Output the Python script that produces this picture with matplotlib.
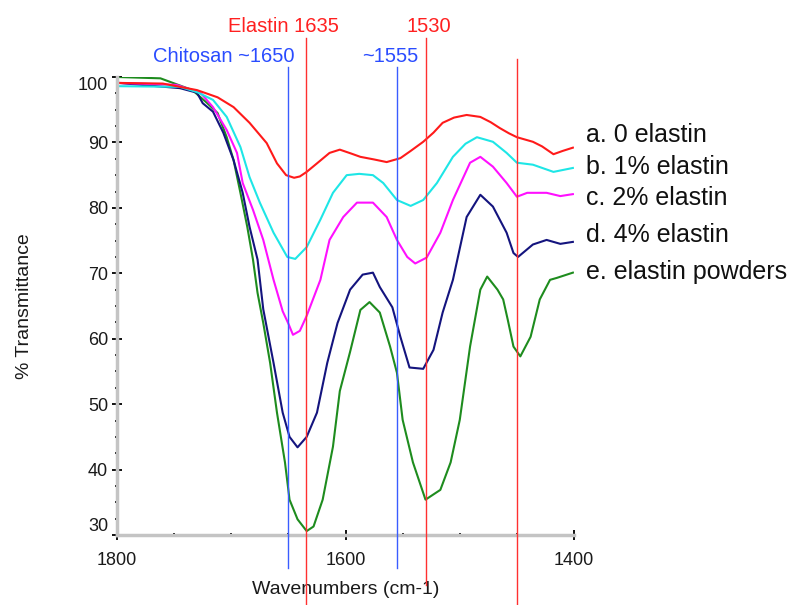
import matplotlib.pyplot as plt
from matplotlib.ticker import MultipleLocator

plt.rcParams['font.family'] = ['Liberation Sans', 'DejaVu Sans']

# a. 0 elastin
w_a = [1799, 1760, 1730, 1712, 1698, 1684, 1669, 1660, 1652, 1645, 1640, 1634, 1625,
       1614, 1605, 1595, 1587, 1575, 1564, 1552, 1543, 1532, 1523, 1515, 1505, 1494,
       1482, 1473, 1465, 1457, 1450, 1436, 1428, 1418, 1410, 1401]
t_a = [99.1, 99.0, 98.0, 96.9, 95.4, 93.0, 89.9, 86.8, 85.0, 84.6, 84.8, 85.5, 86.8,
       88.4, 88.9, 88.3, 87.8, 87.4, 87.0, 87.6, 88.7, 90.1, 91.5, 93.0, 93.8, 94.2,
       93.9, 93.1, 92.2, 91.4, 90.8, 90.1, 89.4, 88.2, 88.7, 89.2]

# b. 1% elastin
w_b = [1799, 1745, 1730, 1716, 1704, 1692, 1684, 1675, 1663, 1651, 1644, 1634, 1622,
       1611, 1599, 1588, 1576, 1567, 1555, 1543, 1532, 1520, 1506, 1495, 1485, 1471,
       1459, 1450, 1436, 1418, 1401]
t_b = [98.6, 98.5, 97.7, 96.5, 93.9, 89.3, 84.7, 80.8, 76.2, 72.5, 72.2, 74.0, 78.2,
       82.3, 85.0, 85.2, 85.0, 83.8, 81.2, 80.3, 81.2, 83.8, 87.8, 89.8, 90.8, 90.1,
       88.4, 86.9, 86.6, 85.5, 86.1]

# c. 2% elastin
w_c = [1799, 1748, 1727, 1716, 1704, 1695, 1690, 1681, 1672, 1663, 1655, 1650, 1646,
       1640, 1634, 1622, 1614, 1602, 1590, 1576, 1564, 1555, 1546, 1539, 1529, 1517,
       1506, 1491, 1482, 1471, 1459, 1450, 1441, 1424, 1412, 1401]
t_c = [99.1, 98.8, 97.6, 95.4, 91.9, 88.4, 83.8, 79.7, 75.1, 69.0, 64.2, 62.3, 60.6,
       61.2, 63.5, 69.0, 75.1, 78.6, 80.8, 80.8, 78.6, 75.1, 72.5, 71.5, 72.4, 76.2,
       81.2, 86.9, 87.8, 86.3, 83.8, 81.7, 82.3, 82.3, 81.8, 82.1]

# d. 4% elastin
w_d = [1799, 1745, 1730, 1725, 1716, 1707, 1698, 1690, 1684, 1677, 1672, 1663, 1655,
       1649, 1642, 1634, 1625, 1616, 1607, 1596, 1585, 1576, 1570, 1559, 1552, 1544,
       1532, 1523, 1515, 1506, 1494, 1482, 1471, 1459, 1453, 1449, 1436, 1424, 1412, 1401]
t_d = [99.1, 98.3, 97.6, 96.0, 94.7, 91.5, 87.3, 82.3, 77.1, 72.1, 64.5, 56.3, 48.7,
       45.0, 43.4, 45.0, 48.7, 56.3, 62.4, 67.5, 69.8, 70.1, 67.9, 64.8, 60.3, 55.6,
       55.4, 58.3, 64.0, 69.0, 78.6, 82.0, 80.2, 76.2, 73.1, 72.5, 74.4, 75.1, 74.5, 74.8]

# e. elastin powders
w_e = [1799, 1762, 1748, 1734, 1721, 1712, 1704, 1698, 1692, 1686, 1681, 1677, 1672,
       1666, 1660, 1653, 1649, 1642, 1634, 1628, 1620, 1611, 1605, 1596, 1587, 1579,
       1570, 1561, 1555, 1550, 1541, 1530, 1517, 1508, 1500, 1491, 1482, 1476, 1467,
       1462, 1458, 1453, 1447, 1438, 1430, 1421, 1415, 1401]
t_e = [100.0, 99.8, 98.9, 98.0, 96.0, 94.5, 90.8, 87.3, 82.3, 77.1, 72.1, 67.0, 62.4,
       56.3, 48.7, 41.1, 35.4, 32.4, 30.6, 31.3, 35.4, 43.5, 52.0, 58.0, 64.4, 65.6,
       64.0, 58.8, 54.8, 47.6, 41.1, 35.4, 36.9, 41.1, 47.6, 58.8, 67.5, 69.5, 67.5,
       66.0, 62.9, 58.8, 57.3, 60.3, 66.0, 69.0, 69.3, 70.1]

serie = [(w_a, t_a, '#ff1a1a'), (w_b, t_b, '#1ee6e6'), (w_c, t_c, '#ff10ff'),
         (w_d, t_d, '#14147e'), (w_e, t_e, '#1e8c1e')]
oznake = ['a. 0 elastin', 'b. 1% elastin', 'c. 2% elastin', 'd. 4% elastin',
          'e. elastin powders']

# navpicne crte: (valovno stevilo, barva, spodaj, zgoraj)
crte = [(1650, '#3a5cff', -0.072, 1.022), (1635, '#ff3030', -0.153, 1.085),
        (1555, '#3a5cff', -0.072, 1.022), (1530, '#ff3030', -0.109, 1.085),
        (1450, '#ff3030', -0.153, 1.039)]

fig = plt.figure(figsize=(8.11, 6.05), dpi=100)
ax = fig.add_axes([0.1443, 0.1157, 0.5635, 0.757])

for w, t, barva in serie[::-1]:
    ax.plot(w, t, color=barva, linewidth=1.5)

for x, barva, y0, y1 in crte:
    ax.axvline(x, y0, y1, color=barva, linewidth=1.0, clip_on=False, zorder=5)

ax.set_xlim(1800, 1400)
ax.set_ylim(30.3, 100)
ax.set_xticks([1800, 1600, 1400])
ax.xaxis.set_minor_locator(MultipleLocator(50))
ax.set_yticks([30, 40, 50, 60, 70, 80, 90, 100])
ax.yaxis.set_minor_locator(MultipleLocator(2.5))

for s in ['top', 'right']:
    ax.spines[s].set_visible(False)
for s in ['left', 'bottom']:
    ax.spines[s].set_color('#c4c4c4')
    ax.spines[s].set_linewidth(2.5)

ax.tick_params(which='major', direction='inout', length=7, width=1.4, color='#111111',
               labelsize=13, labelcolor='#1a1a1a')
ax.tick_params(which='minor', direction='inout', length=2.5, width=1.4, color='#111111')
ax.tick_params(axis='x', which='major', pad=9)
ax.tick_params(axis='y', which='major', pad=3)

yt = ax.yaxis.get_major_ticks()
yt[0].label1.set_verticalalignment('bottom')
yt[-1].label1.set_verticalalignment('top')

ax.set_xlabel('Wavenumbers (cm-1)', fontsize=14, color='#1a1a1a')
ax.set_ylabel('% Transmittance', fontsize=14, color='#1a1a1a')
ax.xaxis.set_label_coords(0.5, -0.10)
ax.yaxis.set_label_coords(-0.184, 0.5)

fig.text(0.350, 0.957, 'Elastin 1635', color='#ff2020', fontsize=14.5, ha='center', va='center')
fig.text(0.529, 0.957, '1530', color='#ff2020', fontsize=14.5, ha='center', va='center')
fig.text(0.276, 0.906, 'Chitosan ~1650', color='#2a4cff', fontsize=14.5, ha='center', va='center')
fig.text(0.481, 0.906, '~1555', color='#2a4cff', fontsize=14.5, ha='center', va='center')

ypos = [0.777, 0.724, 0.672, 0.612, 0.550]
for oz, y in zip(oznake, ypos):
    fig.text(0.722, y, oz, fontsize=18, color='#111111', ha='left', va='center')

fig.savefig('out.png', dpi=100)
